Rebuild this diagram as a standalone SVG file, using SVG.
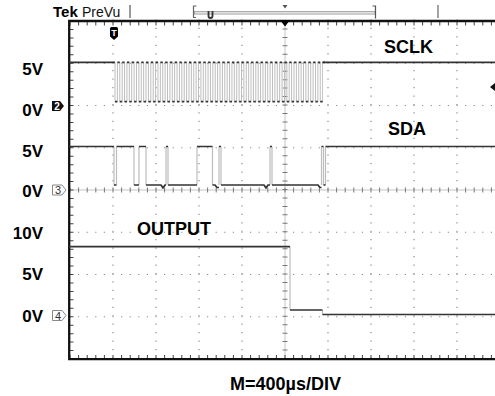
<svg xmlns="http://www.w3.org/2000/svg" width="495" height="396" viewBox="0 0 495 396">
<style>
.lbl{font-family:"Liberation Sans",Arial,sans-serif;font-weight:bold;fill:#000}
.v{font-size:17px;text-anchor:end}
.sig{font-size:18px}
.dotH{stroke:#8a8a8a;stroke-width:1.2;stroke-dasharray:1.2 7.4;fill:none}
.dotV{stroke:#8a8a8a;stroke-width:1.2;stroke-dasharray:1.2 7.25;fill:none}
.edge{stroke:#bdbdbd;stroke-width:1.2;fill:none}
.tr{stroke:#333;stroke-width:1.7;fill:none;stroke-linejoin:round}
.tick{stroke:#555;fill:none}
</style>
<rect width="495" height="396" fill="#fff"/>

<g id="graticule">
  <!-- dotted grid -->
  <path class="dotV" d="M113,19.4V359 M156,19.4V359 M199,19.4V359 M242,19.4V359 M328,19.4V359 M371,19.4V359 M414,19.4V359 M457,19.4V359"/>
  <path class="dotH" d="M69.4,63.25H495 M69.4,105.5H495 M69.4,147.75H495 M69.4,232.25H495 M69.4,274.5H495 M69.4,316.75H495"/>
  <!-- centre lines -->
  <path d="M285,21V359 M70,190H495" stroke="#c4c4c4" stroke-width="1" fill="none"/>
  <path d="M70,190H495" stroke="#777" stroke-width="5" stroke-dasharray="1 7.6" stroke-dashoffset="0.5" fill="none"/>
  <path d="M285,20.5V359" stroke="#777" stroke-width="5" stroke-dasharray="1 7.45" stroke-dashoffset="0.5" fill="none"/>
  <!-- border ticks -->
  <path d="M70,23.5H495" stroke="#444" stroke-width="4" stroke-dasharray="1 7.6" stroke-dashoffset="0.5" fill="none"/>
  <path d="M70,357H495" stroke="#444" stroke-width="4" stroke-dasharray="1 7.6" stroke-dashoffset="0.5" fill="none"/>
  <path d="M71.5,21V359" stroke="#444" stroke-width="4" stroke-dasharray="1 7.45" stroke-dashoffset="0.5" fill="none"/>
  <!-- border -->
  <path d="M495,21H69.2V359.2H495" stroke="#111" stroke-width="2.3" fill="none"/>
  <polygon points="280,20 290,20 285,26.5" fill="#000"/>
</g>

<g id="header">
  <text x="53" y="17" class="lbl" style="font-size:15px">Tek</text>
  <text x="82" y="17" style="font-family:'Liberation Sans',Arial,sans-serif;font-size:14px;fill:#111">PreVu</text>
  <path d="M130,5V18" stroke="#555" stroke-width="1.2"/>
  <rect x="194.5" y="11.5" width="180.5" height="2.6" fill="#e2e2e2" stroke="#9a9a9a" stroke-width="0.8"/>
  <path d="M196.5,6H193.5V17.5H196" stroke="#666" stroke-width="1.2" fill="none"/>
  <path d="M372.5,6H375.5V18.5" stroke="#555" stroke-width="1.2" fill="none"/>
  <path d="M208.5,11V16Q208.5,18 210.5,18Q212.5,18 212.5,16V11" stroke="#333" stroke-width="1.8" fill="none"/>
  <polygon points="282.5,5 287.5,5 285,8.5" fill="#555"/>
  <path d="M438,5V18" stroke="#666" stroke-width="1.2"/>
</g>

<g id="markers">
  <path d="M110,28.5Q110,27 111.5,27H116.5Q118,27 118,28.5V36.5L114,40L110,36.5Z" fill="#000"/>
  <text x="114" y="35.5" style="font-family:'Liberation Sans',Arial,sans-serif;font-weight:bold;font-size:9px;fill:#fff;text-anchor:middle">T</text>
  <path d="M52,101H60L64,106L60,111H52Z" fill="#111"/>
  <text x="57" y="110" style="font-family:'Liberation Sans',Arial,sans-serif;font-weight:bold;font-size:10px;fill:#fff;text-anchor:middle">2</text>
  <path d="M52.5,185H62L66,190L62,195H52.5Z" fill="#fff" stroke="#888" stroke-width="1"/>
  <text x="58" y="194" style="font-family:'Liberation Sans',Arial,sans-serif;font-size:11px;fill:#333;text-anchor:middle">3</text>
  <path d="M52.5,310.5H62L66,315.5L62,320.5H52.5Z" fill="#fff" stroke="#888" stroke-width="1"/>
  <text x="58" y="319.5" style="font-family:'Liberation Sans',Arial,sans-serif;font-size:11px;fill:#333;text-anchor:middle">4</text>
  <polygon points="490,87 495,83 495,91" fill="#111"/>
</g>

<g id="traces">
  <!-- SCLK -->
  <path d="M114.5,82H323" stroke="#bdbdbd" stroke-width="39.3" stroke-dasharray="1 1.3865" fill="none"/>
  <path class="tr" d="M69,62.3H115"/>
  <path d="M117.4,62.3H325" stroke="#333" stroke-width="1.7" stroke-dasharray="2.4 2.373" fill="none"/>
  <path d="M115,101.7H322.6" stroke="#333" stroke-width="1.7" stroke-dasharray="2.4 2.373" fill="none"/>
  <path class="tr" d="M322.6,62.3H495"/>
  <!-- SDA -->
  <path class="edge" d="M114,146.5V185 M116.5,185V146.5 M134,146.5V185 M139,185V146.5 M146,146.5V185 M166,185V146.5 M168,146.5V185 M197,185V146.5 M212.5,146.5V185 M219,185V146.5 M221,146.5V185 M270,185V146.5 M272,146.5V185 M321.5,185V146.5 M323.5,146.5V185 M325.5,185V146.5"/>
  <path class="tr" d="M69,146.5H114 M114,185H116.5 M116.5,146.5H134 M134,185H139 M139,146.5H146 M146,185H161L163,188L165,185H166 M166,146.5H168 M168,185H197 M197,146.5H212.5 M212.5,185H215L217,187.5H219 M219,146.5H221 M221,185H264L266,188L268,185H270 M270,146.5H272 M272,185H318L320,187.5H321.5 M321.5,146.5H323.5 M323.5,185H325.5 M325.5,146.5H495"/>
  <!-- OUTPUT -->
  <path class="edge" d="M290,246.7V310 M322.5,310V314.5"/>
  <path class="tr" d="M69,246.7H290 M290,310H322.5 M322.5,314.5H495"/>
</g>

<g id="labels">
  <text x="43" y="75" class="lbl v">5V</text>
  <text x="43" y="116" class="lbl v">0V</text>
  <text x="43" y="157" class="lbl v">5V</text>
  <text x="43" y="197" class="lbl v">0V</text>
  <text x="43" y="239" class="lbl v">10V</text>
  <text x="43" y="280" class="lbl v">5V</text>
  <text x="43" y="322" class="lbl v">0V</text>
  <text x="384" y="53" class="lbl sig">SCLK</text>
  <text x="388" y="135" class="lbl sig">SDA</text>
  <text x="137" y="235" class="lbl sig">OUTPUT</text>
  <text x="285.5" y="390" class="lbl sig" text-anchor="middle">M=400µs/DIV</text>
</g>
</svg>
